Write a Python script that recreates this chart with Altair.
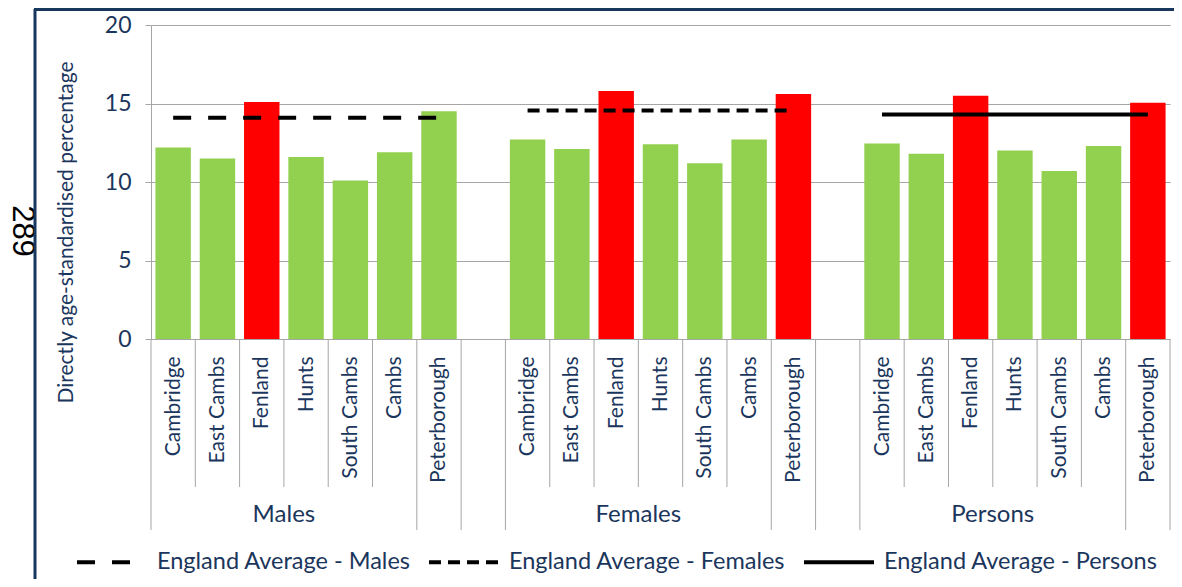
import altair as alt
import pandas as pd

# ---- data ----
groups = ["Males", "Females", "Persons"]
districts = ["Cambridge", "East Cambs", "Fenland", "Hunts", "South Cambs", "Cambs", "Peterborough"]
males = [12.2, 11.5, 15.1, 11.6, 10.1, 11.9, 14.5]
females = [12.7, 12.1, 15.8, 12.4, 11.2, 12.7, 15.6]
persons = [12.45, 11.8, 15.5, 12.0, 10.7, 12.3, 15.05]
# significantly higher than England (red) flags
males_high = [False, False, True, False, False, False, False]
females_high = [False, False, True, False, False, False, True]
persons_high = [False, False, True, False, False, False, True]
england_names = ["England Average - Males", "England Average - Females", "England Average - Persons"]
england_avg = [14.1, 14.55, 14.3]

NAVY = "#1B365C"
FONT = "Lato"
SLOTS_PER_GROUP = 8  # 7 districts + 1 gap
N_SLOTS = 23

rows = []
for gi, (g, vals, flags) in enumerate(zip(groups, [males, females, persons],
                                          [males_high, females_high, persons_high])):
    for di, (d, v, f) in enumerate(zip(districts, vals, flags)):
        rows.append({"group": g, "district": d, "value": v,
                     "status": "Higher" if f else "Similar",
                     "slot": gi * SLOTS_PER_GROUP + di})
bars_df = pd.DataFrame(rows)

lines_df = pd.DataFrame({"series": england_names, "value": england_avg,
                         "gi": list(range(3))})

short_edges, long_edges = [], []
for gi in range(3):
    base = gi * SLOTS_PER_GROUP
    long_edges += [base, base + 6, base + 7]
    short_edges += [base + k for k in range(1, 6)]
long_df = pd.DataFrame({"edge": long_edges})
short_df = pd.DataFrame({"edge": short_edges})
grp_df = pd.DataFrame({"group": groups, "center": [gi * SLOTS_PER_GROUP + 3 for gi in range(3)]})

W, H = 1019, 314
xscale = alt.Scale(domain=[0, N_SLOTS], nice=False, zero=False)

label_list = "[" + ",".join("'" + d + "'" for d in districts) + ",'']"
label_expr = f"{label_list}[floor(datum.value) % {SLOTS_PER_GROUP}]"
tick_vals = [r["slot"] + 0.5 for r in rows]

bars = alt.Chart(bars_df).mark_rect().transform_calculate(
    x0="datum.slot + 0.1", x1="datum.slot + 0.9"
).encode(
    x=alt.X("x0:Q", scale=xscale, axis=alt.Axis(
        values=tick_vals, labelExpr=label_expr, title=None, ticks=False, grid=False,
        domain=True, domainColor="#A6A6A6", domainWidth=1,
        labelAngle=270, labelAlign="right", labelBaseline="middle",
        labelPadding=17, labelFont=FONT, labelFontSize=21, labelColor=NAVY,
        labelOverlap=False, labelBound=False, labelFlush=False, labelLimit=0)),
    x2="x1:Q",
    y=alt.Y("value:Q", scale=alt.Scale(domain=[0, 20], nice=False), axis=alt.Axis(
        values=[0, 5, 10, 15, 20], grid=True, gridColor="#A6A6A6", gridWidth=1,
        domain=True, domainColor="#A6A6A6", ticks=True, tickColor="#A6A6A6", tickSize=6,
        labelFont=FONT, labelFontSize=23, labelColor=NAVY, labelPadding=14,
        title="Directly age-standardised percentage", titleFont=FONT, titleFontSize=21,
        titleFontWeight="normal", titleColor=NAVY, titleX=-85, titleY=207,
        titleAngle=270, titleAlign="center", titleBaseline="middle")),
    y2=alt.datum(0),
    color=alt.Color("status:N", scale=alt.Scale(domain=["Higher", "Similar"],
                                                range=["#FF0000", "#92D050"]), legend=None),
)

avg_lines = alt.Chart(lines_df).mark_rule(color="black", strokeWidth=4, strokeCap="butt").transform_calculate(
    xs=f"datum.gi * {SLOTS_PER_GROUP} + 0.5", xe=f"datum.gi * {SLOTS_PER_GROUP} + 6.5"
).encode(
    x=alt.X("xs:Q", scale=xscale),
    x2="xe:Q",
    y=alt.Y("value:Q"),
    strokeDash=alt.StrokeDash("series:N", scale=alt.Scale(
        domain=england_names, range=[[18, 17], [12, 7], [1, 0]]),
        legend=alt.Legend(title=None, orient="none", legendX=-76, legendY=500,
                          direction="horizontal", symbolType="stroke", symbolSize=4900,
                          symbolStrokeWidth=4, symbolStrokeColor="black",
                          labelFont=FONT, labelFontSize=23.5, labelColor=NAVY,
                          labelOffset=8, columnPadding=10, labelLimit=0)),
)

short_sep = alt.Chart(short_df).mark_rule(color="#A6A6A6", strokeWidth=1).encode(
    x=alt.X("edge:Q", scale=xscale), y=alt.value(H), y2=alt.value(H + 148))
long_sep = alt.Chart(long_df).mark_rule(color="#A6A6A6", strokeWidth=1).encode(
    x=alt.X("edge:Q", scale=xscale), y=alt.value(H), y2=alt.value(H + 191))

grp_text = alt.Chart(grp_df).mark_text(font=FONT, fontSize=24, color=NAVY, baseline="middle").encode(
    x=alt.X("center:Q", scale=xscale), y=alt.value(490), text="group:N")

page_no = alt.Chart(pd.DataFrame({"t": ["289"]})).mark_text(
    font="Liberation Sans", fontSize=31, color="black", angle=90,
    align="center", baseline="middle").encode(
    x=alt.value(-129), y=alt.value(206), text="t:N")

border_left = alt.Chart(pd.DataFrame({"k": [0]})).mark_rule(color="#17375E", strokeWidth=3).encode(
    x=alt.value(-116), y=alt.value(-16), y2=alt.value(560))
border_top = alt.Chart(pd.DataFrame({"k": [0]})).mark_rule(color="#17375E", strokeWidth=3).encode(
    x=alt.value(-117), x2=alt.value(1040), y=alt.value(-15.5))

chart = alt.layer(
    bars, avg_lines, short_sep, long_sep, grp_text, page_no, border_left, border_top
).properties(
    width=W, height=H,
    padding={"left": 143, "top": 17, "right": 4, "bottom": 240},
    autosize=alt.AutoSizeParams(type="none"),
).configure_view(stroke=None)

chart.save("out.html", embed_options={"renderer": "svg", "actions": False})
